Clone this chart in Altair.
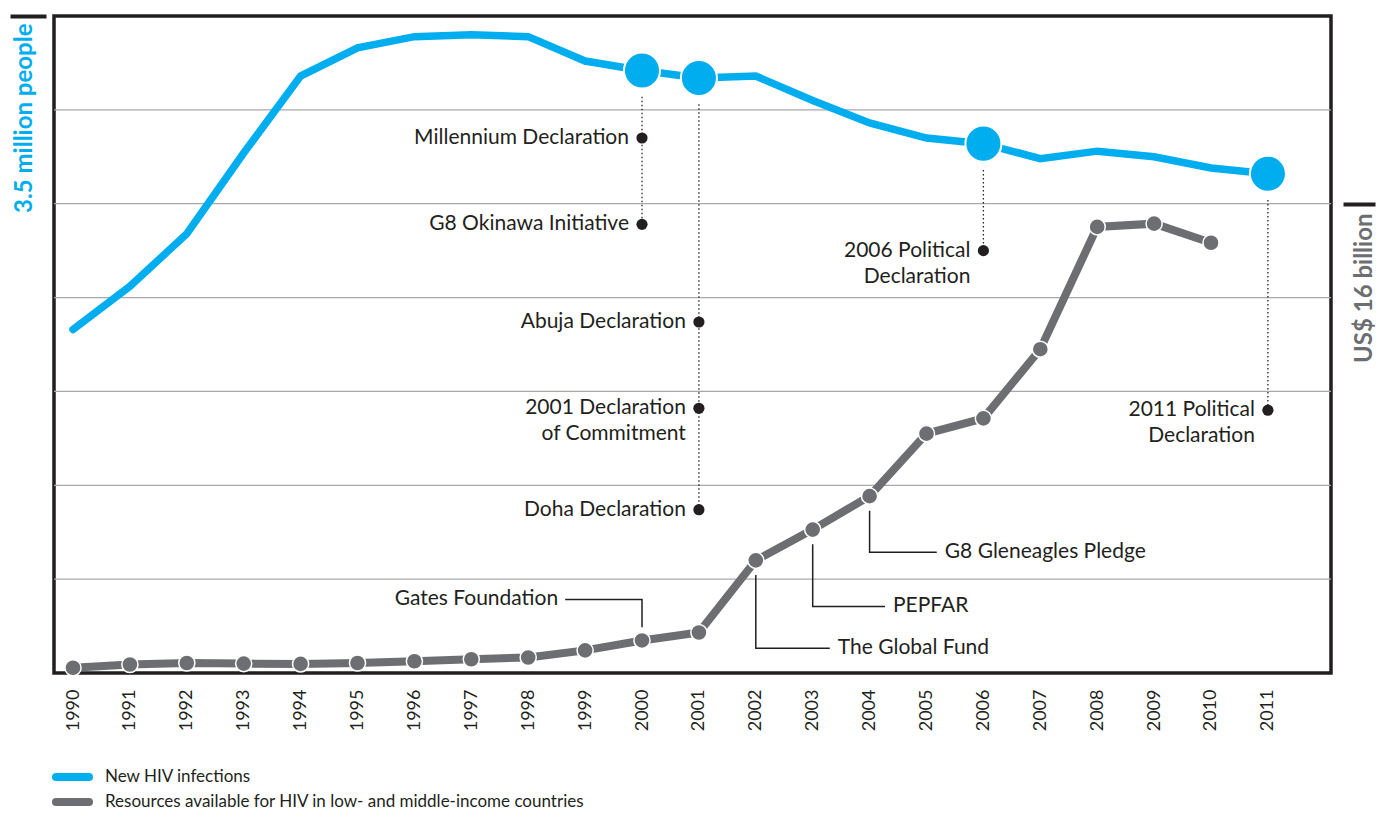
import altair as alt
import pandas as pd

# ---------------- data ----------------
years = list(range(1990, 2012))
new_infections = [1.83, 2.06, 2.34, 2.77, 3.18, 3.33, 3.39, 3.40, 3.39, 3.26, 3.21,
                  3.17, 3.18, 3.05, 2.93, 2.85, 2.82, 2.74, 2.78, 2.75, 2.69, 2.66]  # million people

res_years = list(range(1990, 2011))
resources = [0.18, 0.29, 0.34, 0.32, 0.31, 0.34, 0.40, 0.47, 0.53, 0.77, 1.11,
             1.38, 3.84, 4.89, 6.03, 8.16, 8.68, 11.04, 15.21, 15.32, 14.67]  # US$ billion

event_labels = ["Millennium Declaration", "G8 Okinawa Initiative", "Abuja Declaration",
                "2001 Declaration\nof Commitment", "Doha Declaration",
                "2006 Political\nDeclaration", "2011 Political\nDeclaration"]
event_years = [2000, 2000, 2001, 2001, 2001, 2006, 2011]
event_levels = [2.85, 2.39, 1.87, 1.41, 0.87, 2.25, 1.40]  # on the new-infections scale

funding_labels = ["Gates Foundation", "The Global Fund", "PEPFAR", "G8 Gleneagles Pledge"]
funding_years = [2000, 2002, 2003, 2004]
funding_levels = [2.51, 0.84, 2.27, 4.12]        # on the resources scale
funding_label_years = [1998.65, 2003.3, 2004.27, 2005.18]

grid_values = [0.5, 1.0, 1.5, 2.0, 2.5, 3.0]

legend_names = ["New HIV infections",
                "Resources available for HIV in low- and middle-income countries"]

# ---------------- style ----------------
BLUE = "#00aeef"
GREY = "#6d6e71"
DARK = "#231f20"
GRID = "#a7a9ac"
FONT = "Lato"
ANN_SIZE = 21

X_DOMAIN = [1989.666, 2012.109]
xscale = alt.Scale(domain=X_DOMAIN, nice=False, zero=False)
lscale = alt.Scale(domain=[0, 3.5], nice=False, zero=False)
rscale = alt.Scale(domain=[0, 22.4], nice=False, zero=False)

x_axis = alt.Axis(values=years, format="d", labelAngle=270, labelFontSize=18, labelFont=FONT,
                  labelColor=DARK, labelPadding=16, ticks=False, tickSize=0, domain=False,
                  grid=False, title=None, labelFlush=False, labelOverlap=False)

left_axis = alt.Axis(orient="left", values=[3.5], offset=8, domain=False, labels=False, grid=False,
                     ticks=True, tickSize=36, tickWidth=4, tickColor=DARK,
                     title="3.5 million people", titleAngle=270, titleAlign="right",
                     titleBaseline="middle", titleX=-22, titleY=7, titleFont=FONT,
                     titleFontSize=24, titleFontWeight="bold", titleColor=BLUE)

right_axis = alt.Axis(orient="right", values=[16], offset=12, domain=False, labels=False, grid=False,
                      ticks=True, tickSize=32, tickWidth=4, tickColor=DARK,
                      title="US$ 16 billion", titleAngle=270, titleAlign="right",
                      titleBaseline="middle", titleX=21, titleY=197, titleFont=FONT,
                      titleFontSize=24, titleFontWeight="bold", titleColor=GREY)


def X(field):
    return alt.X(field, type="quantitative", scale=xscale, axis=x_axis)


def YL(field):
    return alt.Y(field, type="quantitative", scale=lscale, axis=left_axis)


def YR(field):
    return alt.Y(field, type="quantitative", scale=rscale, axis=right_axis)


# ---------------- tables ----------------
blue_df = pd.DataFrame({"year": years, "value": new_infections})
grey_df = pd.DataFrame({"year": res_years, "value": resources})
blue_lookup = dict(zip(years, new_infections))
grey_lookup = dict(zip(res_years, resources))

events_df = pd.DataFrame({"label": event_labels, "year": event_years, "level": event_levels})

marker_years = sorted(set(event_years))
markers_df = pd.DataFrame({"year": marker_years,
                           "value": [blue_lookup[y] for y in marker_years]})
conn_df = pd.DataFrame({
    "year": marker_years,
    "top": [blue_lookup[y] - 0.14 for y in marker_years],
    "bottom": [min(l for yy, l in zip(event_years, event_levels) if yy == y) for y in marker_years],
})

grid_df = pd.DataFrame({"g": grid_values})

elbow_rows = []
for lab, yr, lev, ly in zip(funding_labels, funding_years, funding_levels, funding_label_years):
    v = grey_lookup[yr]
    start = v + 0.45 if lev > v else v - 0.5
    elbow_rows += [
        {"label": lab, "step": 0, "x": yr, "y": start},
        {"label": lab, "step": 1, "x": yr, "y": lev},
        {"label": lab, "step": 2, "x": ly, "y": lev},
    ]
elbow_df = pd.DataFrame(elbow_rows)
funding_df = pd.DataFrame({"label": funding_labels, "x": funding_label_years, "y": funding_levels,
                           "side": ["left" if ly < yr else "right"
                                    for ly, yr in zip(funding_label_years, funding_years)]})

# ---------------- left (new infections) group ----------------
grid = alt.Chart(grid_df).mark_rule(color=GRID, strokeWidth=1.3).encode(y=YL("g"))

dotted = alt.Chart(conn_df).mark_rule(color=DARK, strokeWidth=1.3, strokeDash=[1.5, 2.5]).encode(
    x=X("year"), y=YL("top"), y2="bottom")

blue_line = alt.Chart(blue_df).mark_line(color=BLUE, strokeWidth=7.5, strokeCap="round",
                                         strokeJoin="miter").encode(x=X("year"), y=YL("value"))

blue_markers = alt.Chart(markers_df).mark_circle(size=1300, color=BLUE, opacity=1, stroke="white",
                                                 strokeWidth=2).encode(x=X("year"), y=YL("value"))

event_dots = alt.Chart(events_df).mark_circle(size=125, color=DARK, opacity=1).encode(
    x=X("year"), y=YL("level"))

event_text = alt.Chart(events_df).mark_text(align="right", baseline="top", dx=-13, dy=-11,
                                            fontSize=ANN_SIZE, font=FONT, color=DARK, lineBreak="\n",
                                            lineHeight=26).encode(
    x=X("year"), y=YL("level"), text="label:N")

left_group = alt.layer(grid, dotted, blue_line, blue_markers, event_dots, event_text)

# ---------------- right (resources) group ----------------
elbows = alt.Chart(elbow_df).mark_line(color=DARK, strokeWidth=1.5).encode(
    x=X("x"), y=YR("y"), detail="label:N", order="step:Q")

grey_line = alt.Chart(grey_df).mark_line(color=GREY, strokeWidth=8, strokeJoin="miter").encode(
    x=X("year"), y=YR("value"))

grey_points = alt.Chart(grey_df).mark_circle(size=260, color=GREY, opacity=1, stroke="white",
                                             strokeWidth=1.5).encode(x=X("year"), y=YR("value"))

fund_left = alt.Chart(funding_df).transform_filter(alt.datum.side == "left").mark_text(
    align="right", baseline="middle", dx=-7, fontSize=ANN_SIZE, font=FONT, color=DARK).encode(
    x=X("x"), y=YR("y"), text="label:N")

fund_right = alt.Chart(funding_df).transform_filter(alt.datum.side == "right").mark_text(
    align="left", baseline="middle", dx=8, fontSize=ANN_SIZE, font=FONT, color=DARK).encode(
    x=X("x"), y=YR("y"), text="label:N")

right_group = alt.layer(elbows, grey_line, grey_points, fund_left, fund_right)

# ---------------- legend ----------------
leg_blue = alt.Chart(pd.DataFrame({"label": [legend_names[0]]})).mark_rule(
    color=BLUE, strokeWidth=8, strokeCap="round").encode(
    x=alt.value(2), x2=alt.value(35), y=alt.value(761))
leg_grey = alt.Chart(pd.DataFrame({"label": [legend_names[1]]})).mark_rule(
    color=GREY, strokeWidth=8, strokeCap="round").encode(
    x=alt.value(2), x2=alt.value(35), y=alt.value(786))
leg_blue_t = alt.Chart(pd.DataFrame({"label": [legend_names[0]]})).mark_text(
    align="left", baseline="middle", fontSize=17, font=FONT, color=DARK).encode(
    x=alt.value(51), y=alt.value(761), text="label:N")
leg_grey_t = alt.Chart(pd.DataFrame({"label": [legend_names[1]]})).mark_text(
    align="left", baseline="middle", fontSize=17, font=FONT, color=DARK).encode(
    x=alt.value(51), y=alt.value(786), text="label:N")

chart = alt.layer(left_group, right_group, leg_blue, leg_grey, leg_blue_t, leg_grey_t).resolve_scale(
    y="independent"
).properties(
    width=1277, height=657,
    autosize=alt.AutoSizeParams(type="none"),
    padding={"left": 46, "top": 8, "right": 45, "bottom": 140},
    background="white",
).configure_view(stroke=DARK, strokeWidth=3.5)

chart.save("out.html", embed_options={"renderer": "svg", "actions": False})
